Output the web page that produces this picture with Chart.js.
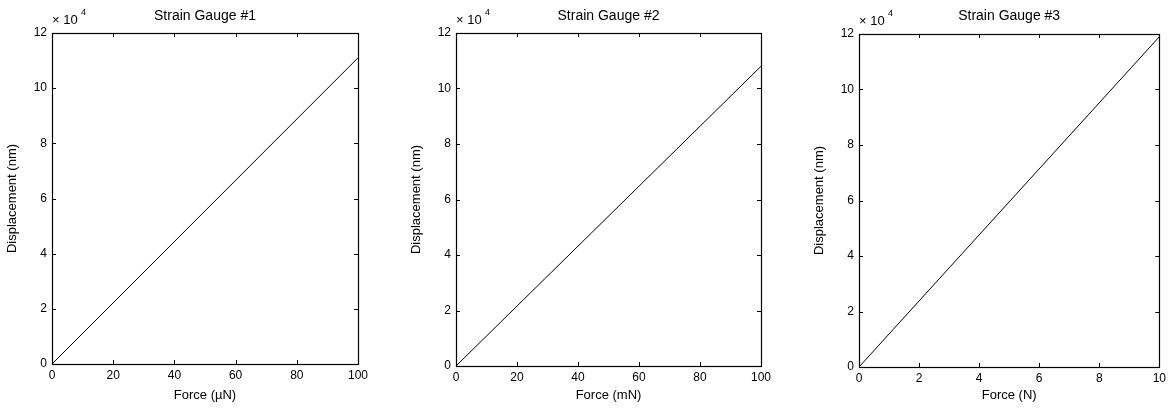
<!DOCTYPE html>
<html>
<head>
<meta charset="utf-8">
<script src="https://cdn.jsdelivr.net/npm/chart.js@4"></script>
<style>
  body { margin: 0; background: #fff; }
  #wrap { position: relative; width: 1170px; height: 408px; }
  canvas { position: absolute; top: 0; }
</style>
</head>
<body>
<div id="wrap">
  <canvas id="c1" width="390" height="408" style="left:0px"></canvas>
  <canvas id="c2" width="390" height="408" style="left:390px"></canvas>
  <canvas id="c3" width="390" height="408" style="left:780px"></canvas>
</div>
<script>
// values
const titles = ['Strain Gauge #1', 'Strain Gauge #2', 'Strain Gauge #3'];
const xLabels = ['Force (\u00b5N)', 'Force (mN)', 'Force (N)'];
const yLabel = 'Displacement (nm)';
const force1 = [0, 100];
const disp1 = [0, 111000];
const force2 = [0, 100];
const disp2 = [0, 108000];
const force3 = [0, 10];
const disp3 = [0, 119000];
const xMax = [100, 100, 10];
const xStep = [20, 20, 2];
const yTicks = [0, 20000, 40000, 60000, 80000, 100000, 120000];

// chart area boxes inside each canvas (left, top, right, bottom)
const areas = [
    { l: 52, t: 33, r: 358, b: 364 },
    { l: 66, t: 33, r: 371, b: 366 },
    { l: 79, t: 34, r: 383, b: 367 }
];

const FONT = 'Liberation Sans, Arial, sans-serif';

const boxPlugin = {
    id: 'box',
    afterDraw(chart, args, opts) {
        const ctx = chart.ctx;
        const a = chart.chartArea;
        const xs = chart.scales.x, ys = chart.scales.y;
        ctx.save();
        ctx.strokeStyle = '#000';
        ctx.lineWidth = 1.2;
        ctx.strokeRect(Math.round(a.left) + 0.5, Math.round(a.top) + 0.5,
            Math.round(a.right - a.left), Math.round(a.bottom - a.top));
        // inward tick marks
        ctx.lineWidth = 1;
        ctx.beginPath();
        xs.ticks.forEach(t => {
            const px = Math.round(xs.getPixelForValue(t.value)) + 0.5;
            ctx.moveTo(px, a.bottom); ctx.lineTo(px, a.bottom - 4);
            ctx.moveTo(px, a.top); ctx.lineTo(px, a.top + 4);
        });
        ys.ticks.forEach(t => {
            const py = Math.round(ys.getPixelForValue(t.value)) + 0.5;
            ctx.moveTo(a.left, py); ctx.lineTo(a.left + 4, py);
            ctx.moveTo(a.right, py); ctx.lineTo(a.right - 4, py);
        });
        ctx.stroke();
        // titles
        ctx.fillStyle = '#000';
        ctx.textAlign = 'center';
        ctx.textBaseline = 'middle';
        ctx.font = '14px ' + FONT;
        ctx.fillText(opts.title, (a.left + a.right) / 2, 16);
        ctx.font = '13px ' + FONT;
        ctx.fillText(opts.xLabel, (a.left + a.right) / 2, 395);
        ctx.save();
        ctx.translate(a.left - 40, (a.top + a.bottom) / 2);
        ctx.rotate(-Math.PI / 2);
        ctx.fillText(yLabel, 0, 0);
        ctx.restore();
        // exponent
        ctx.textAlign = 'left';
        ctx.font = '13px ' + FONT;
        ctx.fillText('\u00d7 10', a.left, a.top - 13);
        ctx.font = '9px ' + FONT;
        ctx.fillText('4', a.left + 29, a.top - 20);
        ctx.restore();
    }
};

function makeChart(id, i, xs, ys) {
    const area = areas[i];
    const canvas = document.getElementById(id);
    new Chart(canvas, {
        type: 'scatter',
        data: {
            datasets: [{
                data: xs.map((x, k) => ({ x: x, y: ys[k] })),
                showLine: true,
                borderColor: '#000',
                borderWidth: 1,
                pointRadius: 0,
                fill: false
            }]
        },
        options: {
            responsive: false,
            animation: false,
            devicePixelRatio: 1,
            layout: {
                padding: { left: 0, top: area.t, right: canvas.width - area.r, bottom: 0 }
            },
            plugins: {
                legend: { display: false },
                tooltip: { enabled: false },
                box: { title: titles[i], xLabel: xLabels[i] }
            },
            scales: {
                x: {
                    type: 'linear',
                    min: 0,
                    max: xMax[i],
                    grid: { display: false, drawTicks: false },
                    border: { display: false },
                    ticks: {
                        stepSize: xStep[i],
                        padding: 4,
                        color: '#000',
                        maxRotation: 0,
                        font: { family: FONT, size: 12 }
                    },
                    afterFit(scale) { scale.height = canvas.height - area.b; }
                },
                y: {
                    min: 0,
                    max: 120000,
                    grid: { display: false, drawTicks: false },
                    border: { display: false },
                    afterBuildTicks(scale) { scale.ticks = yTicks.map(v => ({ value: v })); },
                    ticks: {
                        padding: 5,
                        color: '#000',
                        font: { family: FONT, size: 12 },
                        callback: v => String(v / 10000)
                    },
                    afterFit(scale) { scale.width = area.l; }
                }
            }
        },
        plugins: [boxPlugin]
    });
}

makeChart('c1', 0, force1, disp1);
makeChart('c2', 1, force2, disp2);
makeChart('c3', 2, force3, disp3);
</script>
</body>
</html>
